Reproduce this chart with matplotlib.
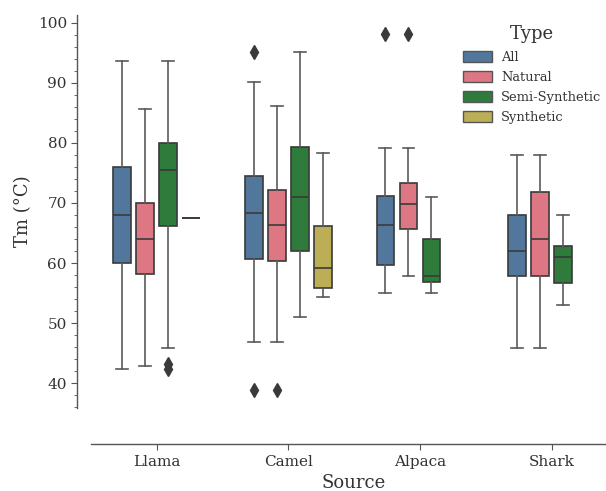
import colorsys

import numpy as np
import matplotlib
matplotlib.use("Agg")
import matplotlib.pyplot as plt
from matplotlib.colors import to_rgb
from matplotlib.patches import Patch
from matplotlib.ticker import MultipleLocator

plt.rcParams['font.family'] = ['DejaVu Serif']

# Data (whislo, q1, median, q3, whishi)
sources = ['Llama', 'Camel', 'Alpaca', 'Shark']
types = ['All', 'Natural', 'Semi-Synthetic', 'Synthetic']

all_box = [(42.3, 60.0, 68.0, 76.0, 93.7), (46.8, 60.7, 68.4, 74.5, 90.1),
           (55.0, 59.7, 66.3, 71.2, 79.1), (45.9, 57.9, 62.0, 68.0, 78.0)]
natural_box = [(42.9, 58.2, 64.0, 70.0, 85.6), (46.8, 60.4, 66.3, 72.1, 86.1),
               (57.8, 65.7, 69.8, 73.4, 79.1), (45.9, 57.9, 64.0, 71.9, 78.0)]
semi_box = [(45.9, 66.1, 75.5, 80.0, 93.7), (51.0, 62.0, 71.0, 79.4, 95.2),
            (55.0, 56.9, 57.9, 64.0, 71.0), (53.0, 56.7, 61.0, 62.9, 68.0)]
synthetic_box = [(67.5, 67.5, 67.5, 67.5, 67.5), (54.4, 55.9, 59.2, 66.1, 78.4),
                 None, None]

all_fliers = [[], [95.2, 38.9], [98.2], []]
natural_fliers = [[], [38.9], [98.2], []]
semi_fliers = [[42.4, 43.1], [], [], []]
synthetic_fliers = [[], [], [], []]

# Paul Tol "bright" colours, desaturated like seaborn boxes
base_colors = ['#4477AA', '#EE6677', '#228833', '#CCBB44']


def desaturate(c, prop=0.75):
    h, l, s = colorsys.rgb_to_hls(*to_rgb(c))
    return colorsys.hls_to_rgb(h, l, s * prop)


colors = [desaturate(c) for c in base_colors]
edge = '#3a3a3a'
whisk = '#5a5a5a'

boxes = [all_box, natural_box, semi_box, synthetic_box]
fliers = [all_fliers, natural_fliers, semi_fliers, synthetic_fliers]

fig = plt.figure(figsize=(6.06, 4.91), dpi=100)
ax = fig.add_axes([0.1497, 0.1684, 0.8693, 0.801])

offsets = [-0.2625, -0.0875, 0.0875, 0.2625]
box_w = 0.134

for k in range(len(types)):
    stats = []
    pos = []
    for i in range(len(sources)):
        b = boxes[k][i]
        if b is None:
            continue
        stats.append(dict(whislo=b[0], q1=b[1], med=b[2], q3=b[3], whishi=b[4],
                          fliers=fliers[k][i]))
        pos.append(i + offsets[k])
    ax.bxp(stats, positions=pos, widths=box_w, capwidths=box_w * 0.67,
           patch_artist=True,
           boxprops=dict(facecolor=colors[k], edgecolor=edge, linewidth=1.2),
           whiskerprops=dict(color=whisk, linewidth=1.2),
           capprops=dict(color=whisk, linewidth=1.2),
           medianprops=dict(color=edge, linewidth=1.2),
           flierprops=dict(marker='d', markerfacecolor=edge,
                           markeredgecolor=edge, markersize=7.5))

ax.set_xlim(-0.5, 3.5)
ax.set_ylim(35.8, 101.3)
ax.set_xticks(range(len(sources)))
ax.set_xticklabels(sources)
ax.yaxis.set_major_locator(MultipleLocator(10))
ax.yaxis.set_minor_locator(MultipleLocator(2))

for side in ['top', 'right']:
    ax.spines[side].set_visible(False)
ax.spines['left'].set_position(('outward', 9.6))
ax.spines['bottom'].set_position(('outward', 26))
for side in ['left', 'bottom']:
    ax.spines[side].set_color('#555555')
    ax.spines[side].set_linewidth(1.0)

ax.tick_params(axis='both', which='major', labelsize=11, colors='#555555',
               labelcolor='#333333', length=4)
ax.tick_params(axis='y', which='minor', colors='#555555', length=2)

ax.set_xlabel('Source', fontsize=13, color='#333333')
ax.set_ylabel('Tm (°C)', fontsize=13, color='#333333')

handles = [Patch(facecolor=colors[k], edgecolor='#555555', linewidth=1.0,
                 label=types[k])
           for k in range(len(types))]
leg = fig.legend(handles=handles, title='Type', loc='upper left',
                 bbox_to_anchor=(0.745, 0.972), frameon=False, fontsize=9.4,
                 title_fontsize=13, handlelength=2.2, handleheight=0.9,
                 handletextpad=0.7, labelspacing=0.55)
for t in leg.get_texts():
    t.set_color('#333333')
leg.get_title().set_color('#333333')

fig.savefig('out.png', dpi=100)
